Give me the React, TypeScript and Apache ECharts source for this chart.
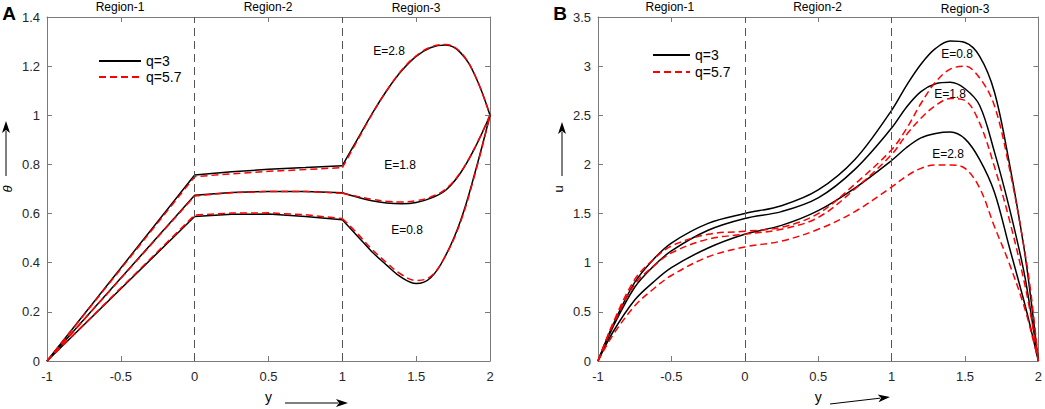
import React, { useEffect, useRef } from "react";
import * as echarts from "echarts";

// ---------- Data ----------
// Panel A (theta): regions 1-2 (piecewise) and region 3 (curved)
const XA12 = [-1, 0, 0.25, 0.5, 0.75, 1];
const XA3 = [1, 1.1, 1.2, 1.3, 1.4, 1.5, 1.6, 1.7, 1.8, 1.9, 2];

const A_Q3_E28_12 = [0, 0.757, 0.77, 0.78, 0.787, 0.795];
const A_Q57_E28_12 = [0, 0.75, 0.762, 0.772, 0.779, 0.787];
const A_Q3_E18_12 = [0, 0.675, 0.686, 0.69, 0.69, 0.685];
const A_Q57_E18_12 = [0, 0.672, 0.685, 0.69, 0.69, 0.683];
const A_Q3_E08_12 = [0, 0.588, 0.597, 0.598, 0.588, 0.575];
const A_Q57_E08_12 = [0, 0.594, 0.602, 0.603, 0.595, 0.58];

const A_Q3_E28_3 = [0.795, 0.9, 1.005, 1.1, 1.18, 1.24, 1.276, 1.286, 1.255, 1.16, 1.0];
const A_Q57_E28_3 = [0.787, 0.895, 1.003, 1.1, 1.182, 1.242, 1.278, 1.288, 1.257, 1.16, 1.0];
const A_Q3_E18_3 = [0.685, 0.667, 0.652, 0.643, 0.64, 0.645, 0.663, 0.695, 0.765, 0.87, 1.0];
const A_Q57_E18_3 = [0.683, 0.67, 0.658, 0.65, 0.647, 0.652, 0.668, 0.7, 0.768, 0.872, 1.0];
const A_Q3_E08_3 = [0.575, 0.51, 0.445, 0.39, 0.34, 0.315, 0.34, 0.43, 0.57, 0.77, 1.0];
const A_Q57_E08_3 = [0.58, 0.52, 0.455, 0.4, 0.352, 0.328, 0.345, 0.43, 0.565, 0.765, 1.0];

// Panel B (u)
const XB = [-1, -0.9, -0.75, -0.625, -0.5, -0.25, 0, 0.25, 0.5, 0.75, 1, 1.1, 1.2, 1.3, 1.4, 1.5, 1.6, 1.7, 1.8, 1.9, 1.95, 2];
const B_Q3_E08 = [0, 0.36, 0.8, 1.03, 1.2, 1.4, 1.5, 1.58, 1.74, 2.05, 2.55, 2.8, 3.02, 3.18, 3.255, 3.24, 3.1, 2.74, 2.03, 1.17, 0.62, 0];
const B_Q3_E18 = [0, 0.34, 0.75, 0.96, 1.12, 1.33, 1.45, 1.52, 1.66, 1.95, 2.37, 2.58, 2.74, 2.82, 2.835, 2.77, 2.6, 2.13, 1.57, 0.92, 0.48, 0];
const B_Q3_E28 = [0, 0.29, 0.62, 0.8, 0.95, 1.15, 1.29, 1.38, 1.53, 1.76, 2.04, 2.17, 2.27, 2.315, 2.33, 2.26, 2.05, 1.72, 1.17, 0.62, 0.32, 0];
const B_Q57_E08 = [0, 0.38, 0.83, 1.03, 1.17, 1.29, 1.32, 1.36, 1.5, 1.8, 2.15, 2.36, 2.62, 2.84, 2.97, 3.0, 2.88, 2.6, 1.98, 1.18, 0.68, 0];
const B_Q57_E18 = [0, 0.36, 0.78, 0.96, 1.1, 1.24, 1.29, 1.34, 1.46, 1.75, 2.1, 2.3, 2.47, 2.6, 2.67, 2.65, 2.42, 1.98, 1.45, 0.83, 0.45, 0];
const B_Q57_E28 = [0, 0.26, 0.56, 0.73, 0.87, 1.06, 1.16, 1.22, 1.34, 1.52, 1.77, 1.88, 1.96, 1.995, 1.995, 1.96, 1.76, 1.37, 1.0, 0.57, 0.3, 0];

const REGION_BOUNDS = [0, 1];
const REGION_LABELS = ["Region-1", "Region-2", "Region-3"];
const E_LABELS = ["E=0.8", "E=1.8", "E=2.8"];
const LEGEND_NAMES = ["q=3", "q=5.7"];

const X_MIN = -1, X_MAX = 2, X_INT = 0.5;
const A_YMAX = 1.4, A_YINT = 0.2;
const B_YMAX = 3.5, B_YINT = 0.5;

const FONT = "'Liberation Sans', Arial, Helvetica, sans-serif";
const AXIS_COLOR = "#7a7a7a";
const LABEL_COLOR = "#262626";

function mkLine(name: string, gi: number, xs: number[], ys: number[], dashed: boolean, smooth: number | boolean, extra: any = {}) {
  const color = dashed ? "#ff0000" : "#000000";
  return {
    type: "line",
    name,
    xAxisIndex: gi * 2,
    yAxisIndex: gi * 2,
    data: xs.map((x, i) => [x, ys[i]]),
    symbol: "none",
    showSymbol: false,
    smooth,
    lineStyle: { color, width: 1.5, type: dashed ? [7, 4] : "solid" },
    itemStyle: { color },
    z: dashed ? 4 : 3,
    silent: true,
    ...extra,
  };
}

function axesFor(gi: number, ymax: number, yint: number, yname: string) {
  const common = {
    gridIndex: gi,
    type: "value",
    axisLine: { show: true, onZero: false, lineStyle: { color: AXIS_COLOR, width: 1 } },
    axisTick: { show: true, inside: true, length: 5, lineStyle: { color: AXIS_COLOR } },
    splitLine: { show: false },
  };
  const xs = [
    {
      ...common,
      min: X_MIN, max: X_MAX, interval: X_INT, position: "bottom",
      axisLabel: { fontSize: 13, color: LABEL_COLOR, margin: 9, fontFamily: FONT },
      name: "y", nameLocation: "middle", nameGap: 29,
      nameTextStyle: { fontSize: 14, color: "#000", fontFamily: FONT },
    },
    { ...common, min: X_MIN, max: X_MAX, interval: X_INT, position: "top", axisLabel: { show: false } },
  ];
  const ys = [
    {
      ...common,
      min: 0, max: ymax, interval: yint, position: "left",
      axisLabel: { fontSize: 13, color: LABEL_COLOR, margin: 7, fontFamily: FONT },
      name: yname, nameLocation: "middle", nameGap: 33, nameRotate: 90,
      nameTextStyle: { fontSize: 13, color: "#000", fontFamily: FONT, fontStyle: yname === "θ" ? "italic" : "normal" },
    },
    { ...common, min: 0, max: ymax, interval: yint, position: "right", axisLabel: { show: false } },
  ];
  return { xs, ys };
}

const markLines = {
  silent: true,
  symbol: "none",
  label: { show: false },
  lineStyle: { color: "#555", type: [8, 5], width: 1 },
  data: REGION_BOUNDS.map((b) => ({ xAxis: b })),
};

function text(t: string, x: number, y: number, size = 12, extra: any = {}) {
  return {
    type: "text",
    x, y,
    style: { text: t, fill: "#000", font: `${size}px ${FONT}`, textAlign: "center", textVerticalAlign: "middle", ...extra },
    silent: true,
  };
}

function arrow(x1: number, y1: number, x2: number, y2: number) {
  const dx = x2 - x1, dy = y2 - y1;
  const len = Math.sqrt(dx * dx + dy * dy);
  const ux = dx / len, uy = dy / len;
  const hl = 12, hw = 4;
  const bx = x2 - ux * hl, by = y2 - uy * hl;
  return [
    { type: "line", shape: { x1, y1, x2: bx + ux * 2, y2: by + uy * 2 }, style: { stroke: "#000", lineWidth: 1 }, silent: true },
    {
      type: "polygon",
      shape: { points: [[x2, y2], [bx - uy * hw, by + ux * hw], [bx + ux * 3, by + uy * 3], [bx + uy * hw, by - ux * hw]] },
      style: { fill: "#000" },
      silent: true,
    },
  ];
}

export default function App() {
  const ref = useRef<HTMLDivElement>(null);
  useEffect(() => {
    document.body.style.margin = "0";
    const chart = echarts.init(ref.current!, null, { renderer: "svg" });
    const A = axesFor(0, A_YMAX, A_YINT, "θ");
    const B = axesFor(1, B_YMAX, B_YINT, "u");
    const gA = { left: 46, top: 17, width: 444, height: 350 };
    const gB = { left: 598, top: 17, width: 443, height: 350 };
    const px = (g: any, x: number) => g.left + ((x - X_MIN) / (X_MAX - X_MIN)) * g.width;

    const series: any[] = [
      // Panel A
      mkLine(LEGEND_NAMES[0], 0, XA12, A_Q3_E28_12, false, false, { markLine: markLines }),
      mkLine(LEGEND_NAMES[0], 0, XA3, A_Q3_E28_3, false, 0.4),
      mkLine(LEGEND_NAMES[0], 0, XA12, A_Q3_E18_12, false, false),
      mkLine(LEGEND_NAMES[0], 0, XA3, A_Q3_E18_3, false, 0.4),
      mkLine(LEGEND_NAMES[0], 0, XA12, A_Q3_E08_12, false, false),
      mkLine(LEGEND_NAMES[0], 0, XA3, A_Q3_E08_3, false, 0.4),
      mkLine(LEGEND_NAMES[1], 0, XA12, A_Q57_E28_12, true, false),
      mkLine(LEGEND_NAMES[1], 0, XA3, A_Q57_E28_3, true, 0.4),
      mkLine(LEGEND_NAMES[1], 0, XA12, A_Q57_E18_12, true, false),
      mkLine(LEGEND_NAMES[1], 0, XA3, A_Q57_E18_3, true, 0.4),
      mkLine(LEGEND_NAMES[1], 0, XA12, A_Q57_E08_12, true, false),
      mkLine(LEGEND_NAMES[1], 0, XA3, A_Q57_E08_3, true, 0.4),
      // Panel B
      mkLine(LEGEND_NAMES[0], 1, XB, B_Q3_E08, false, 0.35, { markLine: markLines }),
      mkLine(LEGEND_NAMES[0], 1, XB, B_Q3_E18, false, 0.35),
      mkLine(LEGEND_NAMES[0], 1, XB, B_Q3_E28, false, 0.35),
      mkLine(LEGEND_NAMES[1], 1, XB, B_Q57_E08, true, 0.35),
      mkLine(LEGEND_NAMES[1], 1, XB, B_Q57_E18, true, 0.35),
      mkLine(LEGEND_NAMES[1], 1, XB, B_Q57_E28, true, 0.35),
    ];

    const legendCommon = {
      data: LEGEND_NAMES,
      orient: "vertical",
      itemHeight: 14,
      selectedMode: false,
      itemStyle: { opacity: 0, borderWidth: 0 },
      textStyle: { fontSize: 14, color: "#000", fontFamily: FONT },
      itemGap: 2,
    };

    const graphic: any[] = [
      text("A", 9, 13, 18, { font: `bold 19px ${FONT}` }),
      text("B", 560, 13, 18, { font: `bold 19px ${FONT}` }),
      text(REGION_LABELS[0], px(gA, -0.5), 7),
      text(REGION_LABELS[1], px(gA, 0.5), 7),
      text(REGION_LABELS[2], px(gA, 1.5), 8),
      text(REGION_LABELS[0], px(gB, -0.5) - 2, 7),
      text(REGION_LABELS[1], px(gB, 0.5) - 2, 7),
      text(REGION_LABELS[2], px(gB, 1.5) - 2, 9),
      text(E_LABELS[2], 389, 51),
      text(E_LABELS[1], 400, 165),
      text(E_LABELS[0], 407, 230),
      text(E_LABELS[0], 957, 54),
      text(E_LABELS[1], 950, 94),
      text(E_LABELS[2], 948, 154),
      ...arrow(6, 176, 6, 121),
      ...arrow(562, 176, 562, 122),
      ...arrow(285, 403, 348, 403),
      ...arrow(830, 404, 890, 397),
    ];

    chart.setOption({
      animation: false,
      textStyle: { fontFamily: FONT },
      grid: [gA, gB],
      xAxis: [...A.xs, ...B.xs],
      yAxis: [...A.ys, ...B.ys],
      legend: [
        { ...legendCommon, left: 93, top: 49, itemWidth: 42 },
        { ...legendCommon, left: 647, top: 43, itemWidth: 37, itemGap: 3 },
      ],
      series,
      graphic,
    });
    return () => chart.dispose();
  }, []);
  return <div ref={ref} style={{ width: 1045, height: 409 }} />;
}
